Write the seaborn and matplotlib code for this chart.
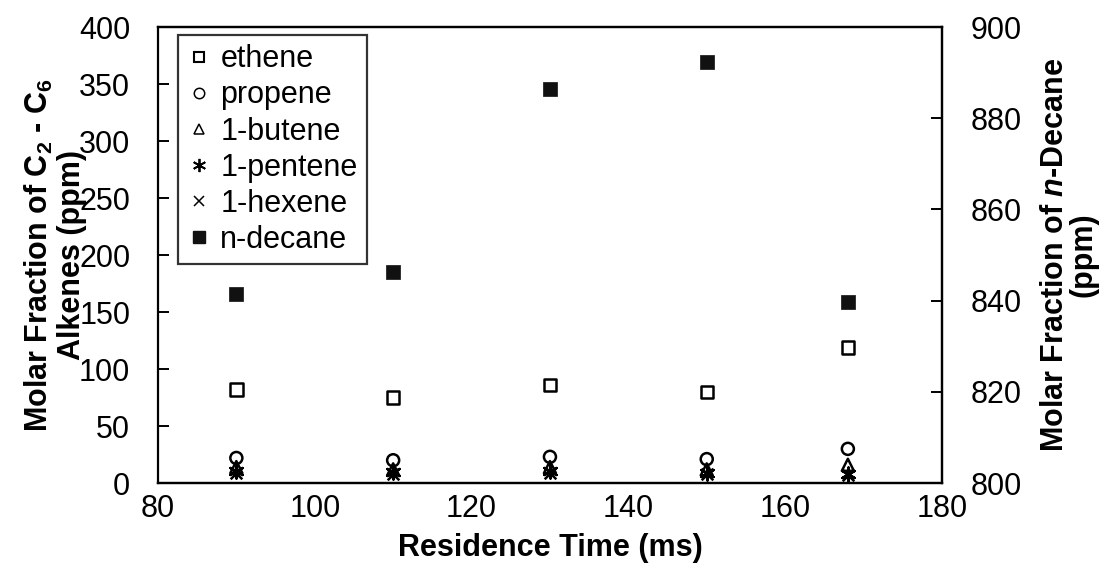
import pandas as pd
import matplotlib.pyplot as plt
import seaborn as sns
from matplotlib.lines import Line2D

# residence time (ms)
residence_time = [90, 110, 130, 150, 168]

# C2 - C6 alkenes (ppm), left axis
ethene = [82, 75, 86, 80, 119]
propene = [22, 20, 23, 21, 30]
butene_1 = [14, 12, 14, 12, 16]
pentene_1 = [11, 10, 11, 9, 8]
hexene_1 = [9, 8, 9, 8, 7]

# n-decane (ppm), right axis
n_decane = [841.5, 846.3, 886.5, 892.3, 839.6]

sns.set_theme(style="white")
plt.rcParams['font.family'] = ['Liberation Sans', 'DejaVu Sans']
plt.rcParams['text.color'] = 'black'
plt.rcParams['axes.labelcolor'] = 'black'
plt.rcParams['mathtext.fontset'] = 'custom'
plt.rcParams['mathtext.rm'] = 'Liberation Sans:bold'
plt.rcParams['mathtext.bf'] = 'Liberation Sans:bold'
plt.rcParams['mathtext.it'] = 'Liberation Sans:bold:italic'

alkenes = pd.DataFrame({
    'time': residence_time * 5,
    'value': ethene + propene + butene_1 + pentene_1 + hexene_1,
    'species': ['ethene'] * 5 + ['propene'] * 5 + ['1-butene'] * 5
               + ['1-pentene'] * 5 + ['1-hexene'] * 5,
})
decane = pd.DataFrame({'time': residence_time, 'value': n_decane})

# marker style per species: (marker, open face?, size)
styles = {
    'ethene': ('s', True, 80),
    'propene': ('o', True, 75),
    '1-butene': ('^', True, 75),
    '1-pentene': ((6, 2, 0), False, 100),
    '1-hexene': ('x', False, 70),
}

fig = plt.figure(figsize=(11.1, 5.82), dpi=100)
ax = fig.add_axes([0.1423, 0.170, 0.7063, 0.7836])
ax2 = ax.twinx()

for sp, (mk, hollow, s) in styles.items():
    sub = alkenes[alkenes['species'] == sp]
    if hollow:
        sns.scatterplot(data=sub, x='time', y='value', ax=ax, marker=mk, s=s,
                        facecolor='none', edgecolor='black', linewidth=1.8, zorder=3)
    else:
        sns.scatterplot(data=sub, x='time', y='value', ax=ax, marker=mk, s=s,
                        color='black', linewidth=1.8, zorder=3)

sns.scatterplot(data=decane, x='time', y='value', ax=ax2, marker='s', s=110,
                color='#111111', edgecolor='#111111', linewidth=0.5, zorder=3)

ax.set_xlim(80, 180)
ax.set_ylim(0, 400)
ax2.set_ylim(800, 900)
ax.set_xticks(range(80, 181, 20))
ax.set_yticks(range(0, 401, 50))
ax2.set_yticks(range(800, 901, 20))

for a in (ax, ax2):
    for sp in a.spines.values():
        sp.set_color('black')
        sp.set_linewidth(1.6)
    a.tick_params(direction='in', length=8, width=1.4, labelsize=22,
                  colors='black', labelcolor='black')
ax2.spines['left'].set_visible(False)
ax.tick_params(axis='x', pad=8)
ax.tick_params(axis='y', pad=20)
ax2.tick_params(axis='y', pad=21)

ax.set_xlabel('Residence Time (ms)', fontsize=22, fontweight='bold',
              labelpad=6, color='black')
ax.set_ylabel('Molar Fraction of C$_2$ - C$_6$\nAlkenes (ppm)', fontsize=22,
              fontweight='bold', linespacing=1.05, color='black')
ax.yaxis.set_label_coords(-0.091, 0.5)
ax2.set_ylabel('Molar Fraction of $n$-Decane\n(ppm)', fontsize=22,
               fontweight='bold', linespacing=0.95, color='black')
ax2.yaxis.set_label_coords(1.125, 0.5)

handles = [
    Line2D([], [], ls='', marker='s', ms=7.5, mfc='none', mec='black', mew=1.5),
    Line2D([], [], ls='', marker='o', ms=7.5, mfc='none', mec='black', mew=1.1),
    Line2D([], [], ls='', marker='^', ms=7.5, mfc='none', mec='black', mew=1.1),
    Line2D([], [], ls='', marker=(6, 2, 0), ms=9.5, color='black', mew=1.3),
    Line2D([], [], ls='', marker='x', ms=7.5, color='black', mew=1.1),
    Line2D([], [], ls='', marker='s', ms=8, mfc='#111111', mec='#111111'),
]
labels = ['ethene', 'propene', '1-butene', '1-pentene', '1-hexene', 'n-decane']
leg = ax.legend(handles, labels, loc='upper left', bbox_to_anchor=(0.025, 0.982),
                fontsize=22, frameon=True, fancybox=False, handlelength=0.8,
                handletextpad=0.3, labelspacing=0.2, borderpad=0.3,
                borderaxespad=0, labelcolor='black')
leg.get_frame().set_edgecolor('black')
leg.get_frame().set_linewidth(1.6)
leg.set_zorder(5)
if ax2.get_legend() is not None:
    ax2.get_legend().remove()
ax.set_zorder(ax2.get_zorder() + 1)
ax.patch.set_visible(False)

fig.savefig('out.png', dpi=100)
